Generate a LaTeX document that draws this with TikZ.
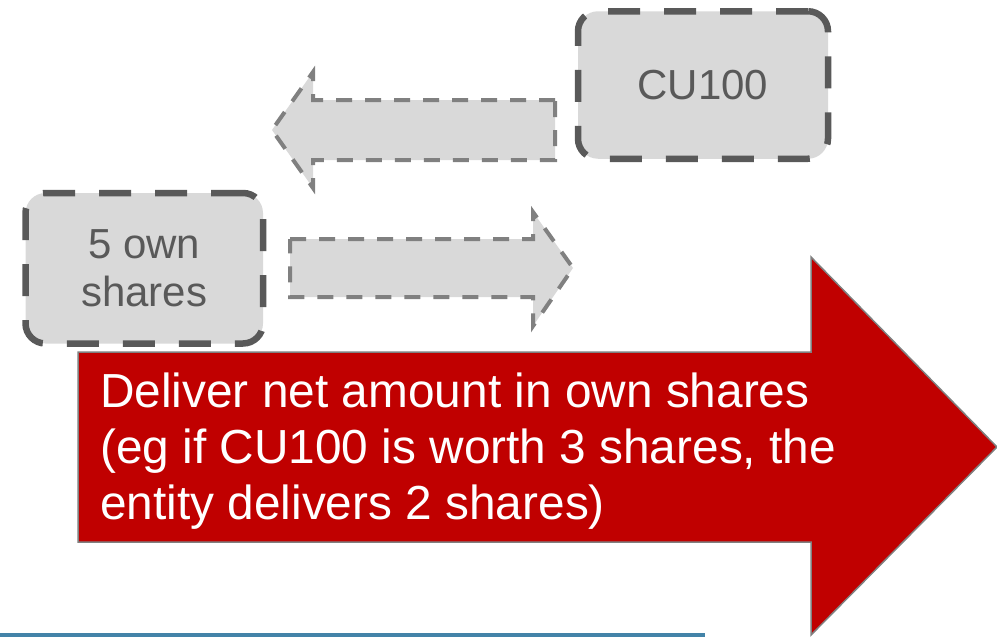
\documentclass[tikz,border=0pt]{standalone}
\usepackage{fontspec}
\setmainfont{Liberation Sans}
\definecolor{boxfill}{HTML}{D9D9D9}
\definecolor{boxline}{HTML}{595959}
\definecolor{flowline}{HTML}{808080}
\definecolor{netred}{HTML}{C00000}
\definecolor{rulerblue}{HTML}{4383A8}
\tikzset{
  sharebox/.style={draw=boxline, fill=boxfill, line width=6.5pt, rounded corners=20pt,
    dash pattern=on 32pt off 24pt, text=boxline, font=\fontsize{42}{48}\selectfont,
    align=center, inner sep=0pt},
  flowarrow/.style={draw=flowline, fill=boxfill, line width=4pt, dash pattern=on 16pt off 13pt},
  netarrow/.style={draw=flowline, fill=netred, line width=1.5pt}
}
\begin{document}
\begin{tikzpicture}[x=1pt, y=-1pt]
    \useasboundingbox (0,0) rectangle (997,637);
    \node[sharebox, minimum width=250pt, minimum height=147.5pt] (cu) at (703,85) {CU100};
    \node[sharebox, minimum width=237.5pt, minimum height=150.5pt] (own) at (144.25,268.25) {5 own\\shares};
    \draw[flowarrow] (555,100) -- (313,100) -- (313,72) -- (272,130) -- (313,188) -- (313,160) -- (555,160) -- cycle;
    \draw[flowarrow] (290,239) -- (533,239) -- (533,212) -- (573,268) -- (533,326) -- (533,297) -- (290,297) -- cycle;
    \draw[netarrow] (78,352) -- (811,352) -- (811,257) -- (997,447) -- (811,635) -- (811,542) -- (78,542) -- cycle;
    \node[anchor=west, text=white, align=left, inner sep=0pt, font=\fontsize{47.8}{56}\selectfont] (net) at (100,451)
        {Deliver net amount in own shares\\(eg if CU100 is worth 3 shares, the\\entity delivers 2 shares)};
    \fill[rulerblue] (0,633) rectangle (705,637);
\end{tikzpicture}
\end{document}
